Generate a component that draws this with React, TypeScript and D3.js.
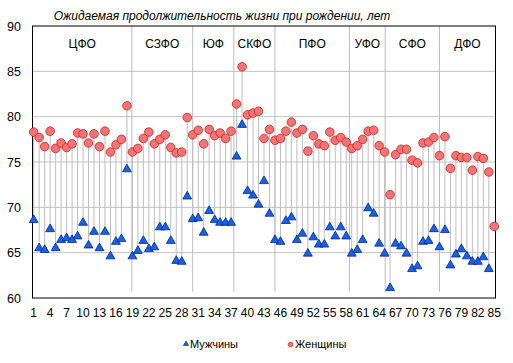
import React, { useEffect, useRef } from 'react';
import * as d3 from 'd3';

// ожидаемая продолжительность жизни, регионы 1..85
const women = [
  78.3, 77.7, 76.7, 78.4, 76.5, 77.1, 76.6, 77.0, 78.2, 78.1, 77.1, 78.1, 76.7, 78.4, 76.1, 76.9, 77.5, 81.2,
  76.1, 76.5, 77.6, 78.3, 77.0, 77.5, 78.0, 76.6, 76.0, 76.1, 79.9,
  78.0, 78.5, 77.0, 78.6, 77.9, 78.2, 77.6, 78.4,
  81.4, 85.5, 80.2, 80.4, 80.6, 77.6, 78.6,
  77.4, 77.6, 78.4, 79.4, 78.2, 78.6, 76.2, 77.9, 77.0, 76.8, 78.3, 77.4, 77.7, 77.2,
  76.5, 76.8, 77.5, 78.4, 78.5, 76.8,
  76.1, 71.4, 75.8, 76.4, 76.4, 75.2, 74.9, 77.1, 77.2, 77.7, 75.7, 77.8,
  74.3, 75.7, 75.5, 75.5, 74.1, 75.6, 75.4, 73.9, 67.9
];

const men = [
  68.6, 65.5, 65.3, 67.6, 65.5, 66.4, 66.6, 66.4, 66.8, 68.3, 65.8, 67.3, 65.5, 67.3, 64.6, 66.2, 66.5, 74.2,
  64.6, 65.2, 66.3, 65.4, 65.6, 67.8, 67.8, 66.3, 64.1, 64.0, 71.2,
  68.7, 68.8, 67.2, 69.6, 68.6, 68.3, 68.3, 68.3,
  75.6, 79.1, 71.8, 71.3, 70.3, 72.9, 69.3,
  66.4, 66.2, 68.5, 68.9, 66.4, 67.1, 64.9, 66.7, 65.9, 65.9, 67.8, 66.8, 67.8, 66.8,
  64.9, 65.3, 66.4, 69.9, 69.3, 66.0,
  64.9, 61.1, 66.0, 65.7, 64.9, 63.2, 63.5, 66.2, 66.3, 67.6, 65.6, 67.5,
  63.6, 64.8, 65.4, 64.6, 64.0, 64.0, 64.5, 63.2, null
];

const districts = ['ЦФО', 'СЗФО', 'ЮФ', 'СКФО', 'ПФО', 'УФО', 'СФО', 'ДФО'];
// границы округов (в номерах регионов)
const borders = [18.9, 30, 37.5, 45, 58.6, 65.1, 75];
const yTicks = [60, 65, 70, 75, 80, 85, 90];

const FONT = '"Liberation Sans", Arial, sans-serif';

function App() {
  const svgRef = useRef<SVGSVGElement>(null);

  useEffect(() => {
    const svg = d3.select(svgRef.current);
    svg.selectAll('*').remove();

    const left = 32.5, right = 495.5, top = 26, bottom = 298;
    const x = d3.scaleLinear().domain([1, 85]).range([33.7, 494.3]);
    const y = d3.scaleLinear().domain([60, 90]).range([bottom, top]);
    const idx = d3.range(1, 86);

    svg.append('text')
      .attr('x', 222).attr('y', 20)
      .attr('text-anchor', 'middle')
      .attr('font-style', 'italic')
      .attr('font-size', 12)
      .attr('font-family', FONT)
      .text('Ожидаемая продолжительность жизни при рождении, лет');

    // сетка
    svg.append('g')
      .selectAll('line')
      .data(yTicks.filter(t => t > 60 && t < 90))
      .enter().append('line')
      .attr('x1', left).attr('x2', right)
      .attr('y1', d => y(d)).attr('y2', d => y(d))
      .attr('stroke', '#c0c0c0');

    // разделители округов
    svg.append('g')
      .selectAll('line')
      .data(borders)
      .enter().append('line')
      .attr('x1', d => x(d)).attr('x2', d => x(d))
      .attr('y1', top).attr('y2', y(60.7))
      .attr('stroke', '#bdbdbd');

    const edges = [left, ...borders.map(b => x(b)), right];
    svg.append('g')
      .selectAll('text')
      .data(districts)
      .enter().append('text')
      .attr('x', (d, i) => (edges[i] + edges[i + 1]) / 2)
      .attr('y', 48)
      .attr('text-anchor', 'middle')
      .attr('font-size', 12)
      .attr('font-family', FONT)
      .text(d => d);

    // линии между мужчинами и женщинами
    svg.append('g')
      .selectAll('line')
      .data(idx.filter(i => men[i - 1] != null))
      .enter().append('line')
      .attr('x1', i => x(i)).attr('x2', i => x(i))
      .attr('y1', i => y(women[i - 1])).attr('y2', i => y(men[i - 1] as number))
      .attr('stroke', '#bdbdbd');

    // рамка
    svg.append('rect')
      .attr('x', left).attr('y', top)
      .attr('width', right - left).attr('height', bottom - top)
      .attr('fill', 'none').attr('stroke', '#000');

    // оси
    svg.append('g')
      .selectAll('text')
      .data(yTicks)
      .enter().append('text')
      .attr('x', 21).attr('y', d => y(d) + 4.5)
      .attr('text-anchor', 'end')
      .attr('font-size', 12.5)
      .attr('font-family', FONT)
      .text(d => d);

    svg.append('g')
      .selectAll('text')
      .data(idx.filter(i => (i - 1) % 3 === 0))
      .enter().append('text')
      .attr('x', i => x(i)).attr('y', 317)
      .attr('text-anchor', 'middle')
      .attr('font-size', 12)
      .attr('font-family', FONT)
      .text(i => i);

    const tri = d3.symbol().type(d3.symbolTriangle).size(34);
    svg.append('g')
      .selectAll('path')
      .data(idx.filter(i => men[i - 1] != null))
      .enter().append('path')
      .attr('d', tri)
      .attr('transform', i => `translate(${x(i)},${y(men[i - 1] as number)})`)
      .attr('fill', '#1463ea')
      .attr('stroke', '#0a2580')
      .attr('stroke-width', 0.8);

    svg.append('g')
      .selectAll('circle')
      .data(idx)
      .enter().append('circle')
      .attr('cx', i => x(i)).attr('cy', i => y(women[i - 1]))
      .attr('r', 4.3)
      .attr('fill', '#f37474')
      .attr('stroke', '#c42424')
      .attr('stroke-width', 0.8);

    // легенда
    const lg = svg.append('g').attr('font-family', FONT).attr('font-size', 11);
    lg.append('path')
      .attr('d', d3.symbol().type(d3.symbolTriangle).size(12))
      .attr('transform', 'translate(186,344)')
      .attr('fill', '#1463ea').attr('stroke', '#0a2580').attr('stroke-width', 0.6);
    lg.append('text').attr('x', 190).attr('y', 348).text('Мужчины');
    lg.append('circle')
      .attr('cx', 290.5).attr('cy', 344.5).attr('r', 2.4)
      .attr('fill', '#f37474').attr('stroke', '#c42424').attr('stroke-width', 0.6);
    lg.append('text').attr('x', 295).attr('y', 348).text('Женщины');
  }, []);

  return (
    <svg ref={svgRef} width="513" height="363"
      style={{ position: 'absolute', left: 0, top: 0, background: '#fff' }}></svg>
  );
}

export default App;
